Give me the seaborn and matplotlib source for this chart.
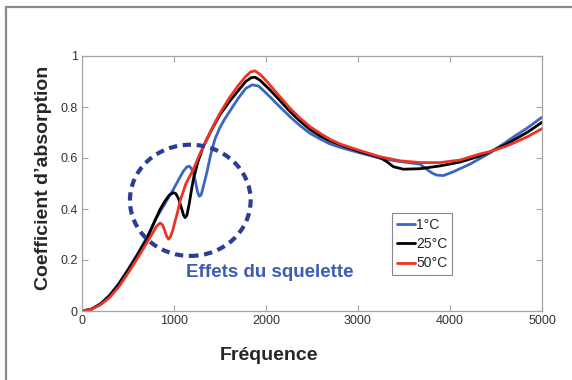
import numpy as np
import pandas as pd
import matplotlib
matplotlib.use("Agg")
import matplotlib.pyplot as plt
from matplotlib.patches import Ellipse
from matplotlib.lines import Line2D
import seaborn as sns

# ---------------- data ----------------
freq_1C = [0, 100, 200, 300, 400, 500, 600, 700, 800, 900, 993, 1050, 1101, 1140, 1167, 1190,
           1210, 1235, 1255, 1275, 1295, 1320, 1355, 1400, 1446, 1500, 1550, 1600, 1700, 1780,
           1850, 1920, 1980, 2043, 2152, 2261, 2370, 2478, 2587, 2696, 2804, 2913, 3022, 3239,
           3457, 3674, 3746, 3800, 3855, 3928, 4036, 4217, 4435, 4600, 4700, 4850, 5000]
abs_1C = [0, 0.007, 0.028, 0.062, 0.108, 0.163, 0.222, 0.285, 0.36, 0.42, 0.477, 0.515, 0.548,
          0.565, 0.568, 0.558, 0.54, 0.505, 0.468, 0.45, 0.455, 0.49, 0.54, 0.615, 0.675, 0.72,
          0.752, 0.78, 0.835, 0.873, 0.887, 0.882, 0.862, 0.84, 0.8, 0.762, 0.727, 0.697,
          0.675, 0.655, 0.642, 0.631, 0.62, 0.599, 0.586, 0.576, 0.556, 0.542, 0.533, 0.531,
          0.546, 0.576, 0.62, 0.66, 0.685, 0.72, 0.76]

freq_25C = [0, 100, 200, 300, 400, 500, 600, 700, 739, 800, 848, 900, 950, 993, 1020, 1050,
            1080, 1105, 1120, 1140, 1165, 1190, 1210, 1260, 1319, 1409, 1500, 1600, 1700,
            1780, 1840, 1880, 1935, 2043, 2152, 2261, 2370, 2478, 2587, 2696, 2804, 2913,
            3022, 3239, 3312, 3384, 3493, 3674, 3891, 4109, 4326, 4435, 4600, 4700, 4850, 5000]
abs_25C = [0, 0.007, 0.027, 0.06, 0.105, 0.16, 0.218, 0.28, 0.31, 0.36, 0.398, 0.43, 0.455,
           0.464, 0.46, 0.44, 0.405, 0.375, 0.366, 0.375, 0.42, 0.475, 0.516, 0.585, 0.646,
           0.711, 0.77, 0.82, 0.865, 0.9, 0.915, 0.917, 0.905, 0.867, 0.825, 0.782, 0.745,
           0.712, 0.687, 0.667, 0.652, 0.638, 0.625, 0.602, 0.586, 0.566, 0.556, 0.558,
           0.569, 0.584, 0.608, 0.624, 0.652, 0.672, 0.703, 0.74]

freq_50C = [0, 100, 200, 300, 400, 500, 600, 700, 775, 810, 848, 875, 900, 920, 940, 960,
            985, 1010, 1040, 1065, 1130, 1210, 1280, 1355, 1430, 1500, 1600, 1700, 1780,
            1830, 1880, 1935, 1990, 2043, 2100, 2152, 2261, 2370, 2478, 2587, 2696, 2804,
            2913, 3022, 3239, 3457, 3674, 3891, 4109, 4326, 4435, 4600, 4700, 4850, 5000]
abs_50C = [0, 0.006, 0.024, 0.053, 0.095, 0.148, 0.205, 0.265, 0.31, 0.332, 0.345, 0.338,
           0.315, 0.293, 0.282, 0.29, 0.315, 0.35, 0.39, 0.43, 0.5, 0.555, 0.615, 0.672,
           0.728, 0.776, 0.835, 0.885, 0.92, 0.937, 0.942, 0.928, 0.908, 0.886, 0.862, 0.84,
           0.795, 0.756, 0.723, 0.697, 0.673, 0.655, 0.642, 0.629, 0.605, 0.589, 0.582,
           0.582, 0.592, 0.616, 0.625, 0.645, 0.66, 0.685, 0.715]

series_labels = ["1°C", "25°C", "50°C"]
x_ticks = [0, 1000, 2000, 3000, 4000, 5000]
y_ticks = [0, 0.2, 0.4, 0.6, 0.8, 1.0]
y_tick_labels = ["0", "0.2", "0.4", "0.6", "0.8", "1"]
annotation = "Effets du squelette"
x_label = "Fréquence"
y_label = "Coefficient d\u2019absorption"

# ---------------- style ----------------
sns.set_style("white")
plt.rcParams["font.family"] = ["Liberation Sans", "DejaVu Sans"]

colors = ["#3a66c4", "#000000", "#ec3326"]
spine_col = "#a9a0a0"

fig = plt.figure(figsize=(5.72, 3.80), dpi=100)
ax = fig.add_axes([82 / 572, 69 / 380, 460 / 572, 255 / 380])

frames = [
    pd.DataFrame({"f": freq_1C, "a": abs_1C}),
    pd.DataFrame({"f": freq_25C, "a": abs_25C}),
    pd.DataFrame({"f": freq_50C, "a": abs_50C}),
]
for df, col, lab in zip(frames, colors, series_labels):
    sns.lineplot(data=df, x="f", y="a", color=col, lw=2.0, label=lab, ax=ax,
                 sort=False, legend=False)
for ln in ax.get_lines():
    ln.set_solid_joinstyle("round")
    ln.set_solid_capstyle("round")

# dashed circle around the skeleton effects
circ = Ellipse((1177, 0.434), width=1312, height=0.436, fill=False,
               edgecolor="#2b3d96", lw=3.0, linestyle=(0, (2.0, 1.35)), zorder=5)
ax.add_patch(circ)

ax.text(1130, 0.152, annotation, color="#3d5cb8", fontsize=13.5,
        fontweight="bold", ha="left", va="center")

ax.set_xlim(0, 5000)
ax.set_ylim(0, 1)
ax.set_xticks(x_ticks)
ax.set_xticklabels([str(t) for t in x_ticks])
ax.set_yticks(y_ticks)
ax.set_yticklabels(y_tick_labels)
ax.tick_params(direction="in", length=4, width=0.8, color=spine_col,
               labelsize=9, labelcolor="#333333", top=True, right=True,
               bottom=True, left=True, pad=3)
for s in ax.spines.values():
    s.set_color(spine_col)
    s.set_linewidth(0.9)
ax.set_xlabel("")
ax.set_ylabel("")

handles = [Line2D([0], [0], color=c, lw=2.0) for c in colors]
leg = ax.legend(handles, series_labels, loc="upper left",
                bbox_to_anchor=(392 / 572, 1 - 213 / 380),
                bbox_transform=fig.transFigure, borderaxespad=0,
                fontsize=10, labelspacing=0.38, handlelength=1.3,
                handletextpad=0.1, borderpad=0.35, fancybox=False,
                framealpha=1, edgecolor="#888888")
leg.get_frame().set_linewidth(0.8)

fig.text(269 / 572, 1 - 356 / 380, x_label, fontsize=14, fontweight="bold",
         ha="center", va="center")
fig.text(44 / 572, 1 - 178 / 380, y_label, fontsize=14, fontweight="bold",
         ha="center", va="center", rotation=90)

# outer frame lines (top and left)
fig.add_artist(Line2D([6 / 572, 1.0], [1 - 7 / 380, 1 - 7 / 380],
                      transform=fig.transFigure, color="#8a8a8a", lw=1.6))
fig.add_artist(Line2D([6 / 572, 6 / 572], [0, 1 - 7 / 380],
                      transform=fig.transFigure, color="#8a8a8a", lw=1.6))

fig.savefig("out.png", dpi=100, facecolor="white")
